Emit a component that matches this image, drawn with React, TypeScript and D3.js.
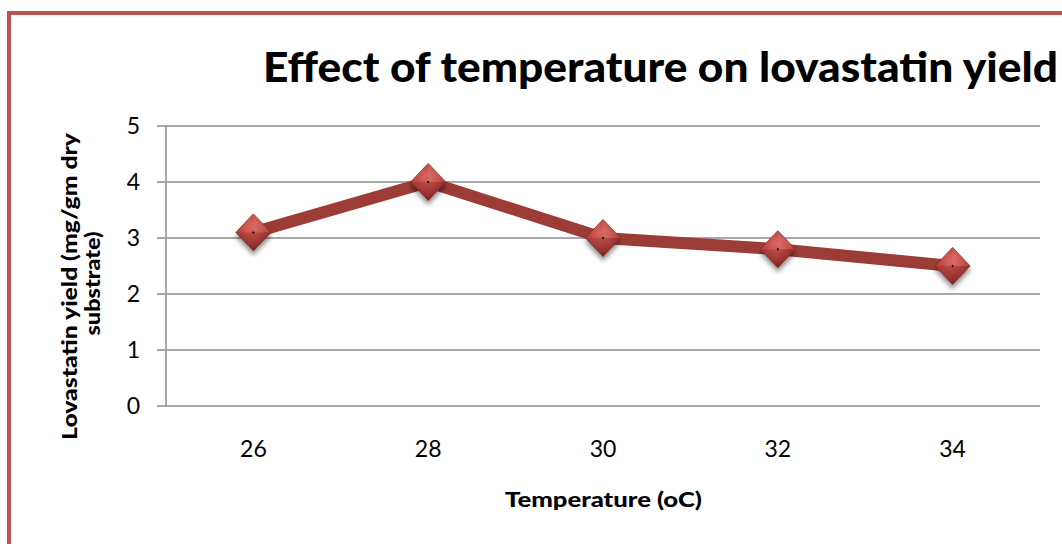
import React from "react";
import * as d3 from "d3";

const categories: string[] = ["26", "28", "30", "32", "34"];
const yieldValues: number[] = [3.1, 4.0, 3.0, 2.8, 2.5];
const yTicks: number[] = [0, 1, 2, 3, 4, 5];

const W = 1062;
const H = 544;
const FONT = "Lato, 'Open Sans', sans-serif";

export default function App() {
  const left = 166;
  const right = 1040;
  const top = 126;
  const bottom = 406;

  const x = d3.scaleBand<string>().domain(categories).range([left, right]).padding(0);
  const y = d3.scaleLinear().domain([0, 5]).range([bottom, top]);

  const pts: [number, number][] = categories.map((c, i) => [
    (x(c) as number) + x.bandwidth() / 2,
    y(yieldValues[i]),
  ]);
  const line = d3.line()(pts) as string;

  const dw = 17.5;
  const dh = 18.5;

  return (
    <svg
      width={W}
      height={H}
      style={{ position: "absolute", left: 0, top: 0, display: "block" }}
    >
      <defs>
        <radialGradient id="mk" cx="0.45" cy="0.35" r="0.7">
          <stop offset="0" stopColor="#dc6660" />
          <stop offset="0.6" stopColor="#b8403b" />
          <stop offset="1" stopColor="#7e2420" />
        </radialGradient>
        <filter id="sh" x="-50%" y="-50%" width="200%" height="200%">
          <feGaussianBlur in="SourceAlpha" stdDeviation="2.5" />
          <feOffset dx="0" dy="4" result="b" />
          <feComponentTransfer>
            <feFuncA type="linear" slope="0.45" />
          </feComponentTransfer>
          <feMerge>
            <feMergeNode />
            <feMergeNode in="SourceGraphic" />
          </feMerge>
        </filter>
      </defs>
      <rect x={0} y={0} width={W} height={H} fill="#ffffff" />
      {/* outer border */}
      <rect x={9} y={13} width={W + 20} height={H + 20} fill="none" stroke="#c0504d" strokeWidth={4} />

      {/* title */}
      <text
        x={263}
        y={82}
        fontFamily={FONT}
        fontWeight="900"
        fontSize={41}
        fill="#000"
        textLength={795}
        lengthAdjust="spacingAndGlyphs"
      >
        Effect of temperature on lovastatin yield
      </text>

      {/* gridlines */}
      {yTicks.map((t) => (
        <g key={t}>
          <line x1={157} x2={right} y1={y(t)} y2={y(t)} stroke="#8c8c8c" strokeWidth={1.5} />
          <text
            x={140}
            y={y(t) + 8}
            textAnchor="end"
            fontFamily={FONT}
            fontSize={23}
            fill="#000"
          >
            {t}
          </text>
        </g>
      ))}
      {/* y axis */}
      <line x1={left} x2={left} y1={top} y2={bottom} stroke="#8c8c8c" strokeWidth={1.5} />

      {/* x labels */}
      {categories.map((c) => (
        <text
          key={c}
          x={(x(c) as number) + x.bandwidth() / 2}
          y={457}
          textAnchor="middle"
          fontFamily={FONT}
          fontSize={23}
          fill="#000"
        >
          {c}
        </text>
      ))}

      {/* series line */}
      <path d={line} fill="none" stroke="#9c3c37" strokeWidth={12} strokeLinejoin="miter" />

      {/* markers */}
      {pts.map(([px, py], i) => (
        <g key={i} filter="url(#sh)">
          <path
            d={`M${px},${py - dh} L${px + dw},${py} L${px},${py + dh} L${px - dw},${py} Z`}
            fill="url(#mk)"
            stroke="#8a2c28"
            strokeWidth={0.8}
          />
          <path
            d={`M${px},${py - dh} L${px + dw},${py} L${px},${py} Z`}
            fill="#ffffff"
            opacity={0.08}
          />
          <path
            d={`M${px - dw},${py} L${px},${py + dh} L${px + dw},${py} L${px},${py} Z`}
            fill="#000"
            opacity={0.12}
          />
          <circle cx={px} cy={py} r={1} fill="#000" />
        </g>
      ))}

      {/* x axis title */}
      <text
        x={603.5}
        y={507}
        textAnchor="middle"
        fontFamily={FONT}
        fontWeight="900"
        fontSize={21}
        fill="#000"
        textLength={197}
        lengthAdjust="spacingAndGlyphs"
      >
        Temperature (oC)
      </text>

      {/* y axis title */}
      <g transform="translate(0,286.5) rotate(-90)">
        <text
          x={0}
          y={77}
          textAnchor="middle"
          fontFamily={FONT}
          fontWeight="900"
          fontSize={21}
          fill="#000"
          textLength={307}
          lengthAdjust="spacingAndGlyphs"
        >
          Lovastatin yield (mg/gm dry
        </text>
        <text
          x={3}
          y={100}
          textAnchor="middle"
          fontFamily={FONT}
          fontWeight="900"
          fontSize={21}
          fill="#000"
          textLength={104}
          lengthAdjust="spacingAndGlyphs"
        >
          substrate)
        </text>
      </g>
    </svg>
  );
}
